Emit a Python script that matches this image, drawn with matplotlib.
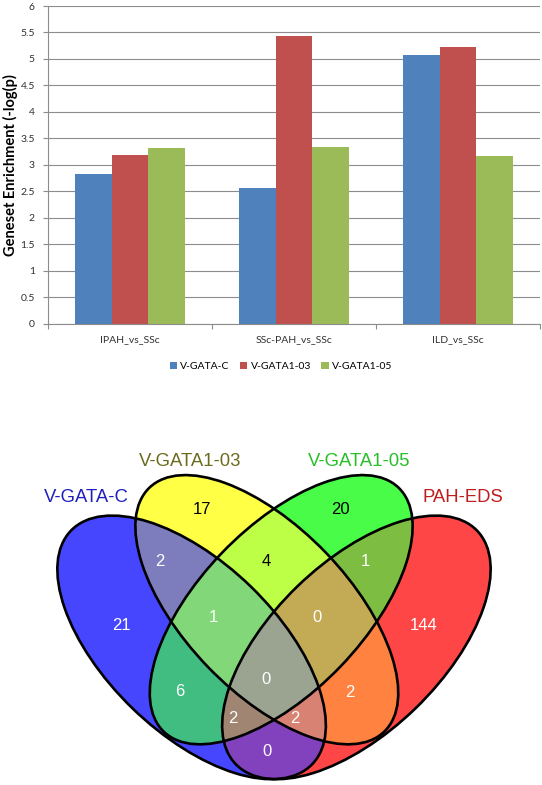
import numpy as np
import matplotlib
matplotlib.use("Agg")
import matplotlib.pyplot as plt
from matplotlib.patches import Ellipse

# ---- bar chart data ----
categories = ["IPAH_vs_SSc", "SSc-PAH_vs_SSc", "ILD_vs_SSc"]
series_names = ["V-GATA-C", "V-GATA1-03", "V-GATA1-05"]
v_gata_c = [2.82, 2.57, 5.08]
v_gata1_03 = [3.18, 5.44, 5.23]
v_gata1_05 = [3.32, 3.33, 3.17]
yticks = [0, 0.5, 1, 1.5, 2, 2.5, 3, 3.5, 4, 4.5, 5, 5.5, 6]

# ---- venn data ----
venn_sets = ["V-GATA-C", "V-GATA1-03", "V-GATA1-05", "PAH-EDS"]
# membership (C, 03, 05, EDS) -> count
venn_regions = ["1000", "0100", "0010", "0001", "1100", "0110", "0011", "1010",
                "0101", "1001", "1110", "0111", "1011", "1101", "1111"]
venn_counts = [21, 17, 20, 144, 2, 4, 1, 6, 2, 0, 1, 0, 2, 2, 0]

BAR_COLORS = ["#4F81BD", "#C0504D", "#9BBB59"]
GRID = "#8c8c8c"
INK = "#303030"

W, H = 542, 785
fig = plt.figure(figsize=(W / 100, H / 100), dpi=100)

# ---------------- bar chart ----------------
ax = fig.add_axes([48 / W, 1 - 323.7 / H, 492 / W, 317.7 / H])
x = np.arange(len(categories))
bw = 1 / 4.5
for i, vals in enumerate([v_gata_c, v_gata1_03, v_gata1_05]):
    ax.bar(x + (i - 1) * bw, vals, bw, color=BAR_COLORS[i], label=series_names[i],
           zorder=2)
ax.set_xlim(-0.5, 2.5)
ax.set_ylim(0, 6)
ax.set_yticks(yticks)
ax.set_yticklabels([f"{t:g}" for t in yticks])
ax.yaxis.grid(True, color=GRID, lw=0.8)
ax.set_axisbelow(True)
for s in ("top", "right"):
    ax.spines[s].set_visible(False)
for s in ("left", "bottom"):
    ax.spines[s].set_color(GRID)
    ax.spines[s].set_linewidth(0.8)
ax.set_xticks([-0.5, 0.5, 1.5, 2.5])
ax.set_xticklabels([])
ax.set_xticks(x, minor=True)
ax.set_xticklabels(categories, minor=True)
ax.tick_params(axis="x", which="major", length=3.5, color=GRID, width=0.8)
ax.tick_params(axis="x", which="minor", length=0, pad=8, labelsize=7.5, labelcolor=INK)
ax.tick_params(axis="y", length=3.5, color=GRID, width=0.8, pad=6, labelsize=7.5,
               labelcolor=INK)
for lab in ax.get_xticklabels(minor=True) + ax.get_yticklabels():
    lab.set_family("Lato")
fig.text(10 / W, 1 - 165 / H, "Geneset Enrichment (-log(p)", rotation=90,
         ha="center", va="center", fontsize=10.5, fontweight="bold", family="Lato")
fig.legend(*ax.get_legend_handles_labels(), loc="center", ncol=3,
           bbox_to_anchor=(281 / W, 1 - 366.7 / H), frameon=False,
           handlelength=0.7, handleheight=0.7, handletextpad=0.3, columnspacing=1.0,
           prop={"family": "Lato", "size": 7.5})

# ---------------- venn diagram ----------------
vx = fig.add_axes([0, 0, 1, 405 / H])
vx.set_xlim(0, W)
vx.set_ylim(H, 380)
vx.axis("off")

# ellipse geometry in pixel coords: (cx, cy, semi-major, semi-minor, angle)
AX = 274
ellipses = [
    (191.6, 647.4, 167.9, 84.9, 44.1),
    (266.8, 609.7, 169.3, 82.1, 46.1),
    (2 * AX - 266.8, 609.7, 169.3, 82.1, -46.1),
    (2 * AX - 191.6, 647.4, 167.9, 84.9, -44.1),
]
region_colors = {
    "1000": "#4646FF", "0100": "#FFFF46", "0010": "#48FC48", "0001": "#FF4646",
    "1100": "#7D7DBE", "0110": "#BEFF46", "0011": "#7DBE41", "1010": "#41BE82",
    "0101": "#FF8241", "1001": "#8241BE", "1110": "#82D778", "0111": "#C3AA55",
    "1011": "#A08573", "1101": "#D78273", "1111": "#9BA591",
}

gx, gy = np.meshgrid(np.arange(0, W, 0.5) + 0.25, np.arange(380, H, 0.5) + 0.25)
inside = []
for cx, cy, a, b, ang in ellipses:
    t = np.radians(ang)
    u = (gx - cx) * np.cos(t) + (gy - cy) * np.sin(t)
    v = -(gx - cx) * np.sin(t) + (gy - cy) * np.cos(t)
    inside.append((u / a) ** 2 + (v / b) ** 2 <= 1)
img = np.zeros(gx.shape + (4,))
key = np.zeros(gx.shape, dtype=int)
for k, m in enumerate(inside):
    key += m.astype(int) << (3 - k)
for code, col in region_colors.items():
    img[key == int(code, 2)] = matplotlib.colors.to_rgba(col)
vx.imshow(img, extent=(0, W, H, 380), interpolation="antialiased", zorder=1)
for cx, cy, a, b, ang in ellipses:
    vx.add_patch(Ellipse((cx, cy), 2 * a, 2 * b, angle=ang, fill=False,
                         ec="black", lw=1.9, zorder=2))

label_pos = [(86, 498), (190, 461.7), (359, 461.7), (463, 498)]
label_colors = ["#1E1EBE", "#6B6B1F", "#28BE28", "#BE1E1E"]
for name, (px, py), c in zip(venn_sets, label_pos, label_colors):
    vx.text(px, py, name, ha="center", va="center", color=c, fontsize=13.3,
            family="Liberation Sans")

count_pos = {
    "1000": (121.7, 625), "0100": (201.7, 510), "0010": (340, 510), "0001": (423.3, 625),
    "1100": (160, 561.7), "0110": (266.7, 561.7), "0011": (365, 561.7),
    "1010": (180, 691.7), "0101": (350, 692.3), "1001": (266.7, 751.7),
    "1110": (213.3, 617), "0111": (316.7, 617), "1011": (233.3, 718.5),
    "1101": (295, 718.5), "1111": (266, 679),
}
dark_text = {"0100", "0010", "0110"}
for code, n in zip(venn_regions, venn_counts):
    px, py = count_pos[code]
    vx.text(px, py, str(n), ha="center", va="center", fontsize=12,
            family="Liberation Sans",
            color="black" if code in dark_text else "white", zorder=3)

fig.savefig("out.png", dpi=100)
